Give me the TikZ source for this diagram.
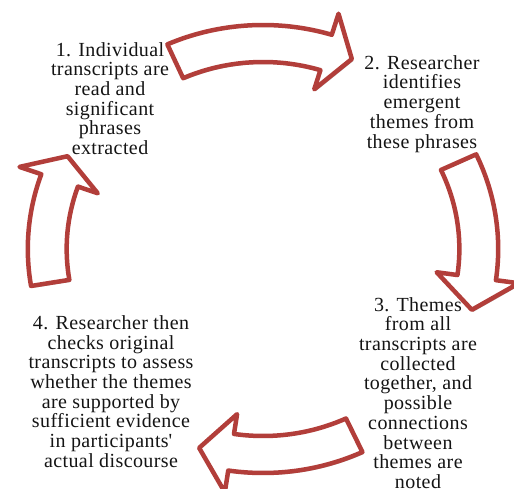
\documentclass[tikz,border=0pt]{standalone}
\usepackage{fontspec}
\setmainfont{Liberation Serif}[LetterSpace=2.0]
\usepackage{tikz}
\usetikzlibrary{shadows}
\definecolor{cycleRed}{HTML}{B23E3A}
\definecolor{stageText}{HTML}{141414}
% curved block arrow: tail angle, head base angle, tip angle
\newcommand{\cyclearrow}[3]{%
  \draw[cyc] (#1:224pt) arc[start angle=#1, end angle=#2, radius=224pt]
    -- (#2:246pt) -- (#3:208pt) -- (#2:167pt) -- (#2:187pt)
    arc[start angle=#2, end angle=#1, radius=187pt] -- cycle;}

\begin{document}
\begin{tikzpicture}[x=1pt, y=1pt,
      cyc/.style={draw=cycleRed, line width=4.5pt, fill=white, line join=round,
                  drop shadow={shadow xshift=1.5pt, shadow yshift=-2pt,
                               opacity=0.25, fill=black}},
      stage/.style={align=center, inner sep=0pt, text=stageText,
                    font=\fontsize{20}{19.7}\selectfont}
    ]
      \useasboundingbox (0,0) rectangle (514,488);

      % Arrows
      \begin{scope}[shift={(263,239)}, xscale=1.05]
        \cyclearrow{114}{73}{66}
        \cyclearrow{25}{-8}{-17}
        \cyclearrow{-65}{-98.5}{-107}
        \cyclearrow{189.5}{160.5}{153.5}
      \end{scope}

      % Stage 1
      \node[stage] (read) at (110, 389.4) {
        1. Individual \\
        transcripts are \\
        read and \\
        significant \\
        phrases \\
        extracted
      };

      % Stage 2
      \node[stage] (themes) at (422, 384.2) {
        2. Researcher \\
        identifies \\
        emergent \\
        themes from \\
        these phrases
      };

      % Stage 3
      \node[stage] (collect) at (418, 95) {
        3. Themes \\
        from all \\
        transcripts are \\
        collected \\
        together, and \\
        possible \\
        connections \\
        between \\
        themes are \\
        noted
      };

      % Stage 4
      \node[stage] (check) at (111, 96.4) {
        4. Researcher then \\
        checks original \\
        transcripts to assess \\
        whether the themes \\
        are supported by \\
        sufficient evidence \\
        in participants\textquotesingle \\
        actual discourse
      };
    \end{tikzpicture}
\end{document}
